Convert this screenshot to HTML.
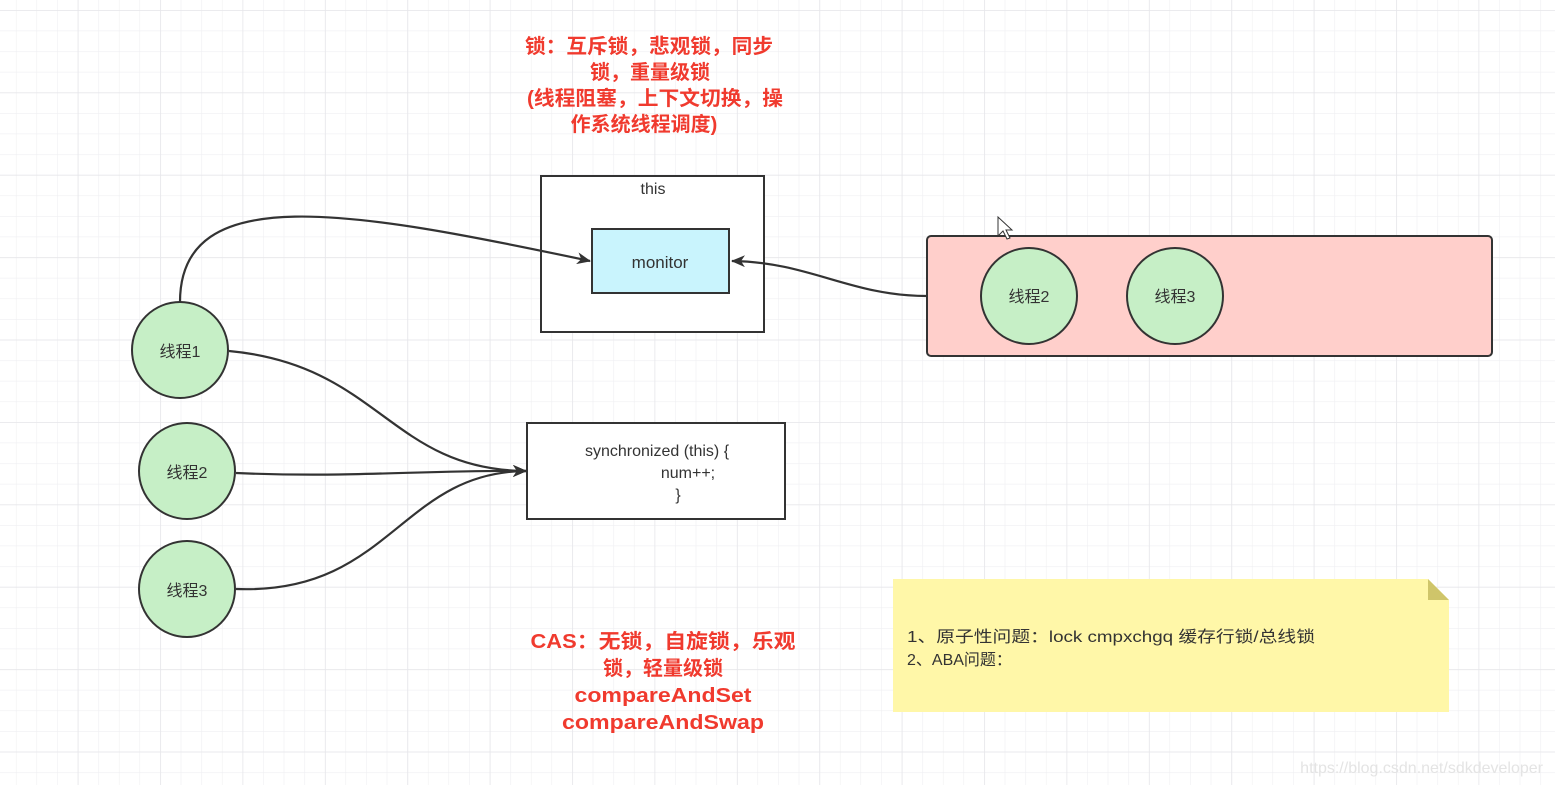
<!DOCTYPE html>
<html><head><meta charset="utf-8"><style>
html,body{margin:0;padding:0;background:#fff}
svg{display:block}
text{font-family:"Liberation Sans","Noto Sans CJK SC",sans-serif}
</style></head><body>
<svg width="1555" height="785" viewBox="0 0 1555 785" xmlns="http://www.w3.org/2000/svg">
<defs>
<pattern id="minor" x="15.9" y="10" width="20.6" height="20.6" patternUnits="userSpaceOnUse">
<path d="M0 0H20.6M0 0V20.6" stroke="#efeff2" stroke-width="1.2" fill="none"/>
</pattern>
<pattern id="major" x="77.7" y="10" width="82.4" height="82.4" patternUnits="userSpaceOnUse">
<path d="M0 0H82.4M0 0V82.4" stroke="#e6e6ea" stroke-width="1.5" fill="none"/>
</pattern>
<marker id="ar" markerWidth="14" markerHeight="12" refX="13" refY="6" orient="auto" markerUnits="userSpaceOnUse">
<path d="M0 0L14 6L0 12L4 6Z" fill="#333"/>
</marker>
</defs>
<rect width="1555" height="785" fill="url(#minor)"/>
<rect width="1555" height="785" fill="url(#major)"/>

<g font-weight="bold" fill="#f03a2e" font-size="20" text-anchor="middle">
<text x="649" y="53" textLength="248" lengthAdjust="spacingAndGlyphs">锁：互斥锁，悲观锁，同步</text>
<text x="650" y="79">锁，重量级锁</text>
<text x="655" y="105" textLength="256" lengthAdjust="spacingAndGlyphs">(线程阻塞，上下文切换，操</text>
<text x="644" y="131">作系统线程调度)</text>
<text x="663" y="648" textLength="265" lengthAdjust="spacingAndGlyphs">CAS：无锁，自旋锁，乐观</text>
<text x="663" y="675">锁，轻量级锁</text>
<text x="663" y="702" textLength="177" lengthAdjust="spacingAndGlyphs">compareAndSet</text>
<text x="663" y="729" textLength="202" lengthAdjust="spacingAndGlyphs">compareAndSwap</text>
</g>

<rect x="541" y="176" width="223" height="156" fill="#fff" stroke="#333" stroke-width="2"/>
<text x="653" y="194" font-size="16" text-anchor="middle" fill="#333">this</text>
<rect x="592" y="229" width="137" height="64" fill="#c9f4fd" stroke="#333" stroke-width="2"/>
<text x="660" y="268" font-size="17" text-anchor="middle" fill="#333">monitor</text>

<rect x="927" y="236" width="565" height="120" rx="4" fill="#ffcfcb" stroke="#333" stroke-width="2"/>
<circle cx="1029" cy="296" r="48" fill="#c6efc6" stroke="#333" stroke-width="2"/>
<circle cx="1175" cy="296" r="48" fill="#c6efc6" stroke="#333" stroke-width="2"/>
<text x="1029" y="302" font-size="16" text-anchor="middle" fill="#333">线程2</text>
<text x="1175" y="302" font-size="16" text-anchor="middle" fill="#333">线程3</text>

<rect x="527" y="423" width="258" height="96" fill="#fff" stroke="#333" stroke-width="2"/>
<text x="657" y="456" font-size="16" text-anchor="middle" fill="#333">synchronized (this) {</text>
<text x="688" y="478" font-size="16" text-anchor="middle" fill="#333">num++;</text>
<text x="678" y="500" font-size="16" text-anchor="middle" fill="#333">}</text>

<g fill="none" stroke="#333" stroke-width="2.2">
<path d="M180 302 C180 180 350 210 590 261" marker-end="url(#ar)"/>
<path d="M927 296 C850 296 810 262 732 261" marker-end="url(#ar)"/>
<path d="M229 351 C380 365 390 470 526 471" marker-end="url(#ar)"/>
<path d="M236 473 C350 478 420 470 526 471" marker-end="url(#ar)"/>
<path d="M236 589 C390 595 400 472 526 471" marker-end="url(#ar)"/>
</g>

<circle cx="180" cy="350" r="48" fill="#c6efc6" stroke="#333" stroke-width="2"/>
<circle cx="187" cy="471" r="48" fill="#c6efc6" stroke="#333" stroke-width="2"/>
<circle cx="187" cy="589" r="48" fill="#c6efc6" stroke="#333" stroke-width="2"/>
<text x="180" y="357" font-size="16" text-anchor="middle" fill="#333">线程1</text>
<text x="187" y="478" font-size="16" text-anchor="middle" fill="#333">线程2</text>
<text x="187" y="596" font-size="16" text-anchor="middle" fill="#333">线程3</text>

<path d="M893 579 H1428 L1449 600 V712 H893 Z" fill="#fff7a8"/>
<path d="M1428 579 L1449 600 H1428 Z" fill="#cfc56a"/>
<text x="907" y="642" font-size="16" fill="#333" textLength="408" lengthAdjust="spacingAndGlyphs">1、原子性问题：lock cmpxchgq  缓存行锁/总线锁</text>
<text x="907" y="665" font-size="16" fill="#333">2、ABA问题：</text>

<text x="1543" y="773" font-size="16" text-anchor="end" fill="#e4e4e4">https://blog.csdn.net/sdkdeveloper</text>
<path d="M998 217 L998 236 L1003 231 L1007 239 L1010 238 L1006 230 L1012 230 Z" fill="#fff" stroke="#333" stroke-width="1"/>
</svg>
</body></html>
